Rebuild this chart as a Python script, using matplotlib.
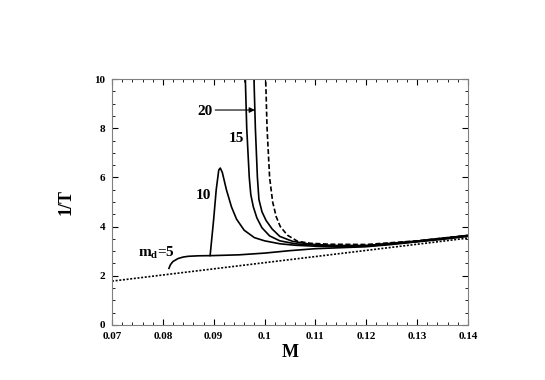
import numpy as np
import matplotlib.pyplot as plt
from matplotlib.ticker import MultipleLocator

plt.rcParams['font.family'] = ['Liberation Serif', 'DejaVu Serif']
plt.rcParams['font.weight'] = 'bold'
plt.rcParams['mathtext.fontset'] = 'custom'
plt.rcParams['mathtext.bf'] = 'Liberation Serif:bold'
plt.rcParams['mathtext.rm'] = 'Liberation Serif:bold'

# md = 5
m5 = [0.0812, 0.0815, 0.082, 0.083, 0.084, 0.085, 0.087, 0.09, 0.095, 0.1,
      0.105, 0.11, 0.115, 0.12, 0.125, 0.13, 0.135, 0.14]
t5 = [2.3, 2.45, 2.58, 2.7, 2.76, 2.79, 2.81, 2.82, 2.85, 2.92,
      3.02, 3.1, 3.14, 3.18, 3.27, 3.38, 3.48, 3.6]
# md = 10
m10 = [0.0893, 0.09, 0.0905, 0.091, 0.0913, 0.0917, 0.0925, 0.0935, 0.0945, 0.096,
       0.098, 0.1, 0.103, 0.106, 0.11, 0.115, 0.12, 0.13, 0.14]
t10 = [2.82, 4.3, 5.5, 6.3, 6.38, 6.2, 5.5, 4.8, 4.3, 3.85,
       3.55, 3.42, 3.3, 3.24, 3.2, 3.18, 3.2, 3.39, 3.62]
# md = 15
m15 = [0.0962, 0.0965, 0.097, 0.0973, 0.0978, 0.0985, 0.0995, 0.101, 0.103,
       0.106, 0.11, 0.115, 0.12, 0.13, 0.14]
t15 = [10.2, 8.0, 6.0, 5.3, 4.8, 4.35, 3.95, 3.62, 3.42,
       3.3, 3.24, 3.2, 3.22, 3.4, 3.63]
# md = 20
m20 = [0.0979, 0.0982, 0.0986, 0.0989, 0.0995, 0.1003, 0.1015, 0.103, 0.1055,
       0.109, 0.114, 0.12, 0.13, 0.14]
t20 = [10.2, 8.0, 6.0, 5.1, 4.6, 4.25, 3.9, 3.6, 3.4,
       3.28, 3.23, 3.23, 3.41, 3.64]
# limiting curve (dashed)
mlim = [0.1002, 0.1005, 0.101, 0.1016, 0.1023, 0.1031, 0.1045, 0.1065, 0.109,
        0.113, 0.12, 0.13, 0.14]
tlim = [10.2, 8.0, 6.0, 5.0, 4.4, 4.0, 3.65, 3.4, 3.32,
        3.28, 3.27, 3.42, 3.64]
# dotted line
mdot = [0.07, 0.14]
tdot = [1.78, 3.53]

fig = plt.figure(figsize=(5.45, 3.8), dpi=100)
ax = fig.add_axes([0.2055, 0.145, 0.653, 0.647])

lw = 1.2
ax.plot(m5, t5, color='black', lw=lw)
ax.plot(m10, t10, color='black', lw=lw)
ax.plot(m15, t15, color='black', lw=lw)
ax.plot(m20, t20, color='black', lw=lw)
ax.plot(mlim, tlim, color='black', lw=1.2, ls=(0, (3, 1.5)))
ax.plot(mdot, tdot, color='black', lw=1.2, ls=(0, (1.2, 1)))

ax.set_xlim(0.07, 0.14)
ax.set_ylim(0, 10)
ax.xaxis.set_minor_locator(MultipleLocator(0.002))
ax.yaxis.set_major_locator(MultipleLocator(2))
ax.yaxis.set_minor_locator(MultipleLocator(0.5))
ax.set_xticks(np.arange(0.07, 0.1401, 0.01))
ax.set_xticklabels(['0.07', '0.08', '0.09', '0.1', '0.11', '0.12', '0.13', '0.14'])
ax.tick_params(which='both', direction='in', top=True, right=True, labelsize=8, pad=5)
ax.tick_params(which='major', length=4, width=0.8)
ax.tick_params(which='minor', length=2, width=0.6)
for s in ax.spines.values():
    s.set_color('#808080')
    s.set_linewidth(0.8)

ax.set_xlabel('M', fontsize=13, fontweight='bold', labelpad=2)
ax.set_ylabel('1/T', fontsize=13, fontweight='bold', labelpad=14)

ax.text(0.0752, 2.93, r'm$_\mathbf{d}$=5', fontsize=11, fontweight='bold', ha='left', va='center')
ax.text(0.0864, 5.28, '10', fontsize=11, fontweight='bold', ha='left', va='center')
ax.text(0.0929, 7.6, '15', fontsize=11, fontweight='bold', ha='left', va='center')
ax.text(0.0867, 8.66, '20', fontsize=11, fontweight='bold', ha='left', va='center')
ax.annotate('', xy=(0.0981, 8.74), xytext=(0.0903, 8.74),
            arrowprops=dict(arrowstyle='-|>', color='#808080', lw=0.8,
                            mutation_scale=8, shrinkA=0, shrinkB=0,
                            fc='black', ec='black'))

fig.savefig('out.png', dpi=100)
